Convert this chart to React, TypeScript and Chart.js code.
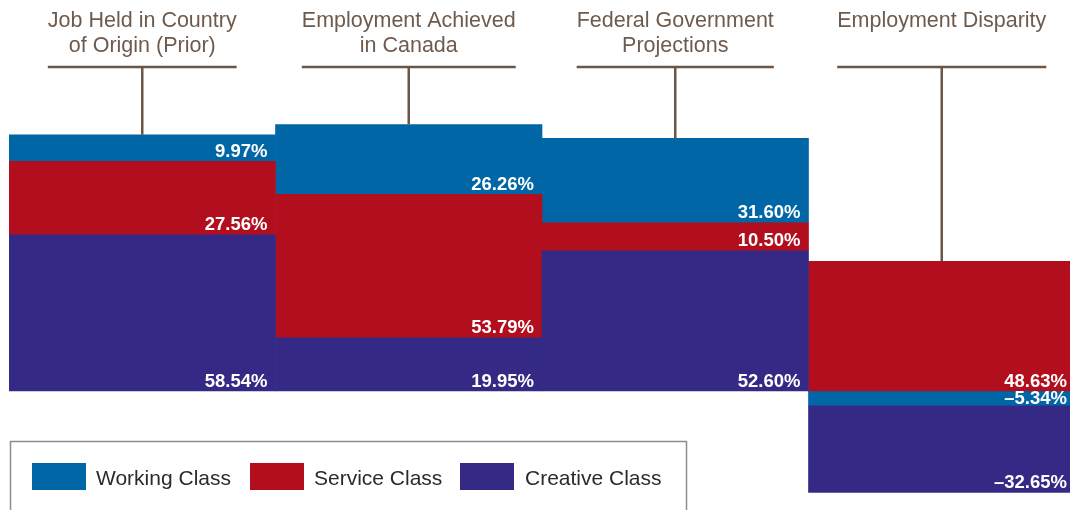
import React, { useEffect, useRef } from "react";
import { Chart, registerables } from "chart.js";

Chart.register(...registerables);

const categories: string[][] = [
  ["Job Held in Country", "of Origin (Prior)"],
  ["Employment Achieved", "in Canada"],
  ["Federal Government", "Projections"],
  ["Employment Disparity"],
];
const workingClass = [9.97, 26.26, 31.6, -5.34];
const serviceClass = [27.56, 53.79, 10.5, 48.63];
const creativeClass = [58.54, 19.95, 52.6, -32.65];
const seriesNames = ["Working Class", "Service Class", "Creative Class"];
const seriesColors = ["#0066a6", "#b20e1d", "#342a86"];

const HEADER_COLOR = "#6e5b4e";
const LINE_COLOR = "#6b5545";

const fmt = (v: number) => (v < 0 ? "\u2013" + Math.abs(v).toFixed(2) + "%" : v.toFixed(2) + "%");

const overlayPlugin = {
  id: "overlay",
  afterDatasetsDraw(chart: any) {
    const ctx = chart.ctx;
    ctx.save();
    ctx.font = "bold 18.5px 'Liberation Sans', Arial, sans-serif";
    ctx.fillStyle = "#ffffff";
    ctx.textAlign = "right";
    ctx.textBaseline = "alphabetic";
    chart.data.datasets.forEach((ds: any, di: number) => {
      const meta = chart.getDatasetMeta(di);
      meta.data.forEach((el: any, i: number) => {
        const v = ds.data[i];
        if (v === null || v === undefined) return;
        const top = Math.min(el.y, el.base);
        const bottom = Math.max(el.y, el.base);
        const right = el.x + el.width / 2;
        const baseline = Math.max(bottom - 4.5, top + 13);
        ctx.fillText(fmt(v), right - 8, baseline);
      });
    });
    ctx.restore();
  },
  afterDraw(chart: any) {
    const ctx = chart.ctx;
    const xs = chart.scales.x;
    const ys = chart.scales.y;
    ctx.save();
    // headers
    ctx.font = "21.5px 'Liberation Sans', Arial, sans-serif";
    ctx.textAlign = "center";
    ctx.textBaseline = "alphabetic";
    categories.forEach((lines, i) => {
      const cx = xs.getPixelForValue(i);
      let maxW = 0;
      ctx.fillStyle = HEADER_COLOR;
      lines.forEach((ln, k) => {
        ctx.fillText(ln, cx, 27 + k * 25);
        maxW = Math.max(maxW, ctx.measureText(ln).width);
      });
      const posSum = [workingClass[i], serviceClass[i], creativeClass[i]]
        .filter((v) => v > 0)
        .reduce((a, b) => a + b, 0);
      const topY = ys.getPixelForValue(posSum);
      ctx.strokeStyle = LINE_COLOR;
      ctx.lineWidth = 2.5;
      ctx.beginPath();
      ctx.moveTo(cx - maxW / 2, 67);
      ctx.lineTo(cx + maxW / 2, 67);
      ctx.moveTo(cx, 67);
      ctx.lineTo(cx, topY);
      ctx.stroke();
    });
    // legend
    ctx.strokeStyle = "#8c8c8c";
    ctx.lineWidth = 1.5;
    ctx.strokeRect(10.5, 441.5, 676, 120);
    const rectX = [32, 250, 460];
    const textX = [96, 314, 525];
    ctx.font = "21px 'Liberation Sans', Arial, sans-serif";
    ctx.textAlign = "left";
    seriesNames.forEach((name, k) => {
      ctx.fillStyle = seriesColors[k];
      ctx.fillRect(rectX[k], 463, 54, 27);
      ctx.fillStyle = "#2b2b2b";
      ctx.fillText(name, textX[k], 485);
    });
    ctx.restore();
  },
};

export default function App() {
  const ref = useRef<HTMLCanvasElement | null>(null);
  useEffect(() => {
    if (!ref.current) return;
    const pos = (arr: number[]) => arr.map((v) => (v >= 0 ? v : null));
    const neg = (arr: number[]) => arr.map((v) => (v < 0 ? v : null));
    const chart = new Chart(ref.current, {
      type: "bar",
      data: {
        labels: categories.map((c) => c.join(" ")),
        datasets: [
          { label: seriesNames[2], data: pos(creativeClass), backgroundColor: seriesColors[2] },
          { label: seriesNames[1], data: serviceClass, backgroundColor: seriesColors[1] },
          { label: seriesNames[0], data: workingClass, backgroundColor: seriesColors[0] },
          { label: seriesNames[2] + " (neg)", data: neg(creativeClass), backgroundColor: seriesColors[2] },
        ] as any,
      },
      options: {
        animation: false,
        responsive: true,
        maintainAspectRatio: false,
        layout: { padding: { left: 9, right: 5, top: 124.3, bottom: 12.3 } },
        datasets: { bar: { barPercentage: 1, categoryPercentage: 1, borderWidth: 0 } } as any,
        plugins: { legend: { display: false }, tooltip: { enabled: false } },
        scales: {
          x: { stacked: true, display: false },
          y: { stacked: true, display: false, min: -40, max: 100 },
        },
      },
      plugins: [overlayPlugin],
    });
    return () => chart.destroy();
  }, []);
  return (
    <div style={{ width: 1070, height: 510, overflow: "hidden", position: "relative" }}>
      <style>{"body{margin:0;overflow:hidden;}"}</style>
      <div style={{ width: 1080, height: 510, position: "relative" }}>
        <canvas ref={ref} />
      </div>
    </div>
  );
}
